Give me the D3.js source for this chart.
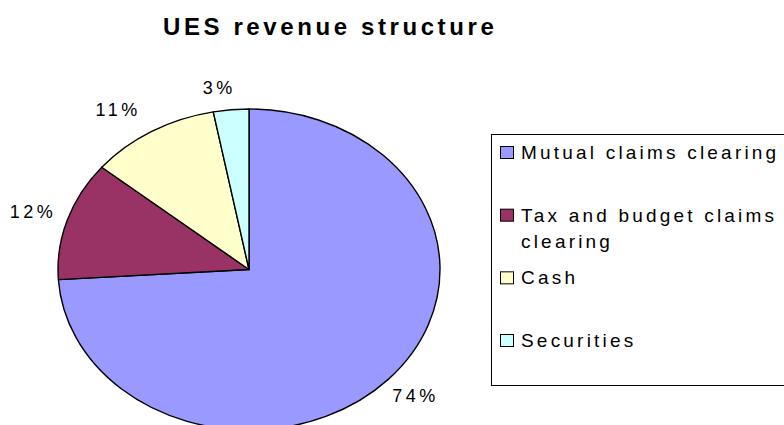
<!DOCTYPE html>
<html>
<head>
<meta charset="utf-8">
<script src="https://cdn.jsdelivr.net/npm/d3@7"></script>
<style>
  body { margin: 0; background: #fff; }
  text { font-family: Arial, "Liberation Sans", sans-serif; fill: #000; }
</style>
</head>
<body>
<script>
// chart data
var categories = ["Mutual claims clearing", "Tax and budget claims clearing", "Cash", "Securities"];
var shares = [74, 12, 11, 3];
var pctLabels = ["74%", "12%", "11%", "3%"];
var sliceColors = ["#9999FF", "#993366", "#FFFFCC", "#CCFFFF"];
var chartTitle = "UES revenue structure";

// small hand tweaks for label placement (excel puts them slightly differently)
var labelNudge = [[0, 2], [1, -1], [-15, -3], [-9, -1]];

var width = 784, height = 425;
var cx = 249, cy = 269.5, rx = 191, ry = 160.5;

var svg = d3.select("body").append("svg").attr("width", width).attr("height", height);

// title
svg.append("text")
  .attr("x", 163).attr("y", 35)
  .style("font-size", "24px").style("font-weight", "bold").style("letter-spacing", "3.6px")
  .text(chartTitle);

var color = d3.scaleOrdinal().domain(categories).range(sliceColors);

// pie starts at 12 o'clock and runs clockwise, in data order
var pie = d3.pie().sort(null).value(function(d) { return d; });
var arcs = pie(shares);

// unit arc, stretched into an ellipse
var arc = d3.arc().innerRadius(0).outerRadius(1);

svg.append("g")
  .attr("transform", "translate(" + cx + "," + cy + ") scale(" + rx + "," + ry + ")")
  .selectAll("path").data(arcs).enter().append("path")
  .attr("d", arc)
  .attr("fill", function(d, i) { return color(categories[i]); })
  .attr("stroke", "#000")
  .attr("stroke-width", 1.4)
  .attr("stroke-linejoin", "round")
  .attr("vector-effect", "non-scaling-stroke");

// percentage labels, outside the rim
var labels = svg.append("g").selectAll("text").data(arcs).enter().append("text")
  .style("font-size", "18px").style("letter-spacing", "3.5px")
  .attr("text-anchor", "middle")
  .text(function(d, i) { return pctLabels[i]; });

labels.each(function(d, i) {
  var a = (d.startAngle + d.endAngle) / 2;
  var s = Math.sin(a), c = -Math.cos(a);
  var w = this.getComputedTextLength();
  var px = cx + rx * s + 14 * s, py = cy + ry * c + 14 * c;
  var x = px + s * w / 2 + labelNudge[i][0];
  var y = py + c * 7 + 6 + labelNudge[i][1];
  d3.select(this).attr("x", x).attr("y", y);
});

// legend
var legend = svg.append("g");
legend.append("rect")
  .attr("x", 491.5).attr("y", 134.5).attr("width", 320).attr("height", 251)
  .attr("fill", "#fff").attr("stroke", "#000").attr("stroke-width", 1);

var rowY = d3.scaleLinear().domain([0, categories.length - 1]).range([159, 347]);

var rows = legend.selectAll("g.row").data(categories).enter().append("g").attr("class", "row");

rows.append("rect")
  .attr("x", 500.5).attr("y", function(d, i) { return rowY(i) - 12.5; })
  .attr("width", 13).attr("height", 12)
  .attr("fill", function(d) { return color(d); })
  .attr("stroke", "#000").attr("stroke-width", 1);

rows.append("text")
  .attr("x", 521).attr("y", function(d, i) { return rowY(i); })
  .style("font-size", "19px").style("letter-spacing", "3.2px")
  .each(function(d) {
    // wrap words onto a second line when the row gets too long
    var el = d3.select(this), words = d.split(" "), line = [];
    var x = +el.attr("x");
    var tspan = el.append("tspan").attr("x", x);
    words.forEach(function(w) {
      line.push(w);
      tspan.text(line.join(" "));
      if (tspan.node().getComputedTextLength() > 272 && line.length > 1) {
        line.pop();
        tspan.text(line.join(" "));
        line = [w];
        tspan = el.append("tspan").attr("x", x).attr("dy", 26).text(w);
      }
    });
  });
</script>
</body>
</html>
